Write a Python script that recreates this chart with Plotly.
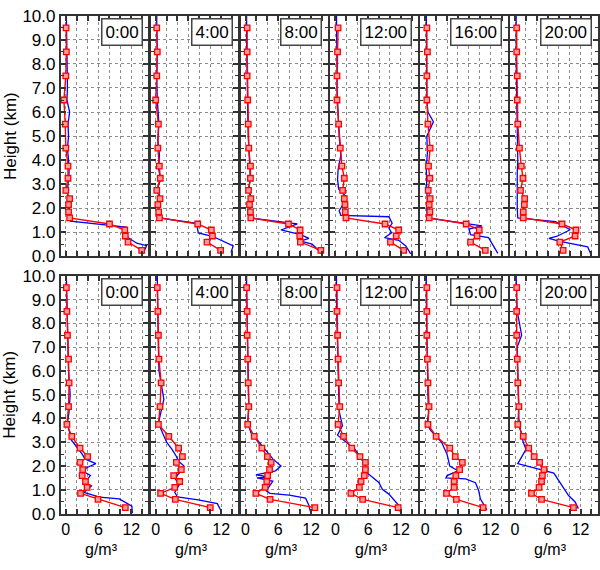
import plotly.graph_objects as go

TIMES = ["0:00", "4:00", "8:00", "12:00", "16:00", "20:00"]

# heights (km) of the red (sounding) points, bottom -> top
RED_H = [0.25, 0.6, 0.85, 1.1, 1.35, 1.6, 1.85, 2.15, 2.4, 2.75, 3.25, 3.75,
         4.5, 5.5, 6.5, 7.5, 8.5, 9.5]

# ---- top row: red values (g/m3) ----
red_top_00 = [13.9, 11.4, 10.9, 10.8, 8.0, 0.7, 0.5, 0.5, 0.7, 0.0, 0.4, 0.4, 0.0, -0.1, -0.35, 0.0, 0.1, 0.05]
red_top_04 = [11.9, 9.4, 10.4, 10.2, 7.7, 0.7, 0.55, 0.4, 0.8, 0.2, 0.85, 0.67, 0.4, 0.5, 0.0, 0.2, 0.3, 0.2]
red_top_08 = [13.8, 10.05, 9.94, 10.0, 7.87, 0.97, 0.9, 0.73, 0.97, 0.55, 0.9, 0.9, 0.6, 0.5, 0.4, 0.3, 0.3, 0.3]
red_top_12 = [12.5, 10.1, 11.15, 11.6, 9.1, 1.94, 1.82, 1.76, 1.64, 1.33, 1.64, 1.2, 0.9, 0.6, 0.3, 0.3, 0.4, 0.5]
red_top_16 = [11.0, 8.3, 9.5, 9.9, 7.5, 0.73, 0.85, 0.73, 0.9, 0.55, 0.85, 0.6, 0.9, 0.5, 0.3, 0.3, 0.4, 0.3]
red_top_20 = [8.8, 8.2, 11.0, 11.15, 8.6, 1.5, 1.5, 1.7, 1.76, 1.0, 1.45, 1.15, 0.8, 0.5, 0.4, 0.4, 0.3, 0.3]

# ---- bottom row: red values (g/m3) ----
red_bot_00 = [10.9, 5.9, 2.7, 3.9, 3.6, 3.0, 3.1, 2.6, 4.0, 2.6, 1.1, 0.2, 0.5, 0.6, 0.5, 0.3, 0.2, 0.1]
red_bot_04 = [10.0, 3.6, 0.9, 3.5, 4.4, 3.3, 4.7, 3.8, 4.9, 4.2, 2.4, 0.5, 0.8, 1.0, 0.6, 0.5, 0.4, 0.3]
red_bot_08 = [12.7, 4.5, 1.9, 3.6, 3.9, 4.05, 4.4, 4.7, 4.0, 3.0, 1.6, 0.4, 0.6, 0.5, 0.4, 0.3, 0.3, 0.2]
red_bot_12 = [11.5, 5.0, 2.85, 4.4, 4.7, 5.3, 5.5, 5.5, 4.5, 3.0, 1.5, 0.5, 0.8, 0.6, 0.5, 0.4, 0.3, 0.3]
red_bot_16 = [10.6, 5.7, 3.9, 5.3, 5.3, 5.6, 6.3, 6.8, 5.5, 4.5, 2.0, 0.5, 0.7, 0.5, 0.4, 0.3, 0.3, 0.3]
red_bot_20 = [10.7, 4.85, 3.0, 4.4, 4.85, 5.0, 5.3, 4.5, 3.5, 2.5, 1.5, 0.5, 0.7, 0.5, 0.4, 0.3, 0.3, 0.3]

# ---- top row: blue profiles ----
blue_h_top_00 = [0.1, 0.45, 0.55, 0.8, 1.22, 1.47, 1.6, 2.0, 2.3, 2.6, 3.0, 3.5, 4.0, 4.5, 5.0, 5.5, 6.0, 6.5, 7.0, 8.0, 9.0, 10.0]
blue_x_top_00 = [14.1, 14.8, 13.0, 11.3, 11.0, 0.85, 0.7, 0.6, 0.9, 0.3, 0.4, 0.6, 0.5, 0.3, 0.5, 0.4, 0.7, 0.2, 0.3, 0.2, 0.1, 0.1]
blue_h_top_04 = [0.17, 0.44, 0.84, 0.98, 1.38, 1.6, 1.8, 2.1, 2.4, 2.8, 3.2, 3.7, 4.2, 4.8, 5.5, 6.5, 7.5, 8.5, 9.5, 10.0]
blue_x_top_04 = [13.8, 14.2, 10.4, 7.8, 7.5, 0.8, 0.6, 0.5, 0.9, 0.3, 0.9, 0.5, 0.7, 0.4, 0.6, 0.3, 0.2, 0.3, 0.2, 0.2]
blue_h_top_08 = [0.11, 0.51, 0.64, 0.75, 0.91, 1.1, 1.35, 1.6, 1.9, 2.2, 2.5, 2.8, 3.2, 3.7, 4.3, 5.0, 6.0, 7.0, 8.0, 9.0, 10.0]
blue_x_top_08 = [14.0, 12.2, 10.1, 11.6, 10.1, 6.5, 9.5, 1.0, 0.8, 0.7, 1.0, 0.5, 0.9, 0.8, 0.6, 0.5, 0.4, 0.3, 0.3, 0.2, 0.2]
blue_h_top_12 = [0.11, 0.44, 0.67, 0.78, 0.98, 1.18, 1.38, 1.65, 1.71, 1.9, 2.2, 2.5, 2.8, 3.2, 3.6, 4.2, 5.0, 6.0, 7.0, 8.0, 9.0, 10.0]
blue_x_top_12 = [13.8, 12.9, 11.6, 9.0, 10.3, 9.8, 10.4, 9.8, 1.0, 0.7, 1.5, 1.9, 0.6, 0.4, 0.5, 1.0, 0.7, 0.5, 0.3, 0.3, 0.2, 0.2]
blue_h_top_16 = [0.13, 0.44, 0.78, 0.91, 1.14, 1.27, 1.6, 1.9, 2.3, 2.7, 3.2, 3.7, 4.3, 5.0, 5.6, 6.0, 6.5, 7.5, 8.5, 9.5, 10.0]
blue_x_top_16 = [13.3, 12.5, 11.6, 8.3, 8.0, 10.4, 0.4, 0.3, 0.4, 0.3, 0.2, 0.2, 0.4, 0.3, 1.5, 0.5, 0.3, 0.3, 0.2, 0.2, 0.2]
blue_h_top_20 = [0.08, 0.4, 0.64, 0.75, 0.84, 1.11, 1.45, 1.6, 2.0, 2.5, 3.0, 3.5, 4.0, 5.0, 6.0, 7.0, 8.0, 9.0, 10.0]
blue_x_top_20 = [13.9, 13.3, 8.0, 6.2, 7.7, 10.1, 7.4, 0.5, 0.4, 0.4, 0.3, 0.4, 0.5, 0.4, 0.3, 0.3, 0.2, 0.2, 0.2]

# ---- bottom row: blue profiles ----
blue_h_bot_00 = [0.01, 0.31, 0.62, 0.69, 0.89, 1.0, 1.16, 1.3, 1.45, 1.6, 1.8, 1.95, 2.1, 2.3, 2.5, 2.8, 3.1, 3.5, 3.8, 4.3, 5.0, 6.0, 7.0, 8.0, 9.0, 10.0]
blue_x_bot_00 = [12.2, 12.1, 9.8, 6.2, 3.3, 3.8, 4.7, 3.2, 4.0, 4.5, 3.0, 4.0, 5.5, 3.5, 3.0, 2.0, 1.0, 0.6, 0.3, 0.6, 0.8, 0.5, 0.4, 0.3, 0.2, 0.1]
blue_h_bot_04 = [0.08, 0.42, 0.58, 0.7, 0.9, 1.2, 1.5, 1.75, 2.0, 2.2, 2.4, 2.7, 3.0, 3.4, 3.8, 4.3, 4.8, 5.5, 6.0, 7.0, 8.0, 9.0, 10.0]
blue_x_bot_04 = [12.05, 11.3, 7.8, 4.0, 3.5, 4.3, 3.5, 4.5, 5.2, 4.2, 3.8, 3.0, 2.0, 1.2, 0.5, 1.0, 1.5, 1.0, 0.6, 0.5, 0.4, 0.3, 0.3]
blue_h_bot_08 = [0.08, 0.35, 0.65, 0.78, 0.85, 0.96, 1.36, 1.5, 1.54, 1.63, 1.8, 2.0, 2.3, 2.6, 3.0, 3.4, 3.8, 4.5, 5.5, 6.5, 7.5, 8.5, 9.5, 10.0]
blue_x_bot_08 = [11.9, 11.6, 11.0, 8.0, 4.5, 3.8, 5.0, 2.1, 4.5, 1.9, 5.5, 6.5, 5.0, 4.0, 2.5, 1.0, 0.4, 0.6, 0.5, 0.4, 0.3, 0.3, 0.2, 0.2]
blue_h_bot_12 = [0.0, 0.35, 0.82, 1.02, 1.3, 1.7, 2.1, 2.7, 3.3, 3.7, 4.3, 5.0, 6.0, 7.0, 8.0, 9.0, 10.0]
blue_x_bot_12 = [12.0, 11.6, 9.8, 8.6, 8.0, 5.9, 5.3, 3.6, 0.4, 1.3, 0.7, 0.6, 0.5, 0.4, 0.3, 0.2, 0.2]
blue_h_bot_16 = [0.15, 0.62, 0.96, 1.3, 1.46, 1.5, 1.6, 1.8, 2.0, 2.5, 3.0, 3.5, 3.75, 4.2, 5.0, 6.0, 7.0, 8.0, 9.0, 10.0]
blue_x_bot_16 = [11.3, 10.1, 9.8, 9.2, 7.4, 3.8, 4.0, 6.0, 4.5, 4.0, 3.0, 1.0, 0.3, 0.6, 0.5, 0.4, 0.3, 0.3, 0.2, 0.2]
blue_h_bot_20 = [0.21, 0.49, 0.76, 1.36, 1.7, 2.1, 2.4, 2.7, 3.0, 3.5, 4.0, 5.0, 6.0, 7.0, 7.5, 8.0, 8.5, 9.0, 10.0]
blue_x_bot_20 = [11.6, 11.0, 9.8, 8.0, 7.1, 0.5, 1.2, 2.0, 1.5, 1.0, 0.7, 0.6, 0.5, 0.4, 1.2, 0.8, 0.4, 0.3, 0.2]

X_MAJOR = [0, 6, 12]
X_MAJOR_TEXT = ["0", "6", "12"]
X_MINOR = [2, 4, 8, 10, 14]
Y_TICKS = [0, 1, 2, 3, 4, 5, 6, 7, 8, 9, 10]
Y_TICKTEXT = ["0.0", "1.0", "2.0", "3.0", "4.0", "5.0", "6.0", "7.0", "8.0", "9.0", "10.0"]
Y_MINOR = [0.5, 1.5, 2.5, 3.5, 4.5, 5.5, 6.5, 7.5, 8.5, 9.5]

panels = [
    (red_top_00, blue_h_top_00, blue_x_top_00),
    (red_top_04, blue_h_top_04, blue_x_top_04),
    (red_top_08, blue_h_top_08, blue_x_top_08),
    (red_top_12, blue_h_top_12, blue_x_top_12),
    (red_top_16, blue_h_top_16, blue_x_top_16),
    (red_top_20, blue_h_top_20, blue_x_top_20),
    (red_bot_00, blue_h_bot_00, blue_x_bot_00),
    (red_bot_04, blue_h_bot_04, blue_x_bot_04),
    (red_bot_08, blue_h_bot_08, blue_x_bot_08),
    (red_bot_12, blue_h_bot_12, blue_x_bot_12),
    (red_bot_16, blue_h_bot_16, blue_x_bot_16),
    (red_bot_20, blue_h_bot_20, blue_x_bot_20),
]

W, H = 600, 570
LEFT0, PSTEP, PW = 61.0, 90.0, 87.5
ROWS_PX = [(7.0, 256.0), (276.0, 522.0)]
FONT = "Liberation Sans, Arial, Helvetica, sans-serif"
FRAME = "#333333"
GRID = dict(showgrid=True, gridcolor="#8c8c8c", griddash="dot", gridwidth=1)

fig = go.Figure()
annotations = []
for k, (red, bh, bx) in enumerate(panels):
    r, c = divmod(k, 6)
    xa = "x" if k == 0 else f"x{k + 1}"
    ya = "y" if k == 0 else f"y{k + 1}"
    fig.add_trace(go.Scatter(x=bx, y=bh, mode="lines",
                             line=dict(color="#0000ff", width=1.3),
                             xaxis=xa, yaxis=ya, showlegend=False, hoverinfo="skip"))
    fig.add_trace(go.Scatter(x=red, y=RED_H, mode="lines+markers",
                             line=dict(color="#ff0000", width=1.4),
                             marker=dict(symbol="square", size=5.5, color="#ff9a9a",
                                         line=dict(color="#ff0000", width=1.3)),
                             xaxis=xa, yaxis=ya, showlegend=False, hoverinfo="skip"))
    left = LEFT0 + c * PSTEP
    top, bot = ROWS_PX[r]
    xkey = "xaxis" if k == 0 else f"xaxis{k + 1}"
    ykey = "yaxis" if k == 0 else f"yaxis{k + 1}"
    fig.layout[xkey] = dict(
        domain=[left / W, (left + PW) / W], anchor=ya, range=[-0.9, 15.1],
        tickmode="array", tickvals=X_MAJOR, ticktext=X_MAJOR_TEXT,
        showticklabels=(r == 1), ticks="inside", ticklen=5, tickwidth=1.5, tickcolor=FRAME,
        minor=dict(tickvals=X_MINOR, ticks="inside", ticklen=5, tickwidth=1.5,
                   tickcolor=FRAME, **GRID),
        showline=True, linecolor=FRAME, linewidth=2, mirror="ticks",
        zeroline=False, tickfont=dict(family=FONT, size=16, color="black"),
        fixedrange=True, **GRID,
    )
    fig.layout[ykey] = dict(
        domain=[1 - bot / H, 1 - top / H], anchor=xa, range=[0, 10],
        tickmode="array", tickvals=Y_TICKS, ticktext=Y_TICKTEXT,
        showticklabels=(c == 0), ticks="inside", ticklen=5, tickwidth=1.5, tickcolor=FRAME,
        minor=dict(tickvals=Y_MINOR, ticks="inside", ticklen=3, tickwidth=1,
                   tickcolor=FRAME, showgrid=False),
        showline=True, linecolor=FRAME, linewidth=2, mirror="ticks",
        zeroline=False, tickfont=dict(family=FONT, size=17, color="black"),
        fixedrange=True, **GRID,
    )
    annotations.append(dict(
        text=TIMES[c], xref=f"{xa} domain", yref=f"{ya} domain",
        x=1 - 5.5 / PW, y=1 - 2.0 / (bot - top), xanchor="right", yanchor="top",
        showarrow=False, font=dict(family=FONT, size=17, color="black"),
        bgcolor="white", bordercolor="#444444", borderwidth=1.5, borderpad=3,
    ))
    if r == 1:
        annotations.append(dict(
            text="g/m³", xref="paper", yref="paper",
            x=(left + 5 + 5.5 * 6.5) / W, y=1 - 559.5 / H, xanchor="center", yanchor="middle",
            showarrow=False, font=dict(family=FONT, size=16, color="black"),
        ))

for top, bot in ROWS_PX:
    annotations.append(dict(
        text="Height (km)", xref="paper", yref="paper", x=10 / W, y=1 - (top + bot) / 2 / H,
        xanchor="center", yanchor="middle", textangle=-90, showarrow=False,
        font=dict(family=FONT, size=17, color="black"),
    ))

fig.update_layout(
    width=W, height=H, margin=dict(l=0, r=0, t=0, b=0), autosize=False,
    paper_bgcolor="white", plot_bgcolor="white",
    annotations=annotations, showlegend=False,
)

fig.write_html("out.html", config={"displayModeBar": False, "responsive": False},
               post_script="document.body.style.margin='0px';")
